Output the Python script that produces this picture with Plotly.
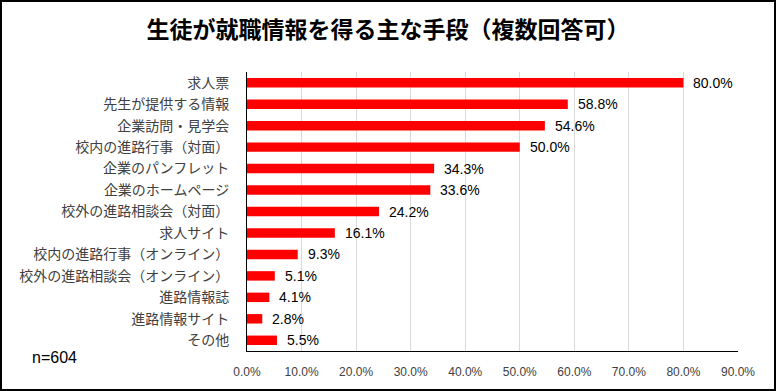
import plotly.graph_objects as go

categories = ["求人票", "先生が提供する情報", "企業訪問・見学会", "校内の進路行事（対面）",
              "企業のパンフレット", "企業のホームページ", "校外の進路相談会（対面）", "求人サイト",
              "校内の進路行事（オンライン）", "校外の進路相談会（オンライン）", "進路情報誌",
              "進路情報サイト", "その他"]
values = [80.0, 58.8, 54.6, 50.0, 34.3, 33.6, 24.2, 16.1, 9.3, 5.1, 4.1, 2.8, 5.5]
x_ticks = [0, 10, 20, 30, 40, 50, 60, 70, 80, 90]
title_text = "生徒が就職情報を得る主な手段（複数回答可）"
note_text = "n=604"

W, H = 776, 391
L, R, T, B = 247, 38, 72, 40
pw, ph = W - L - R, H - T - B

fig = go.Figure(go.Bar(
    y=categories, x=values, orientation="h",
    marker=dict(color="#FF0000", line=dict(width=0)),
    width=0.44, hoverinfo="x+y",
))

label_annotations = [
    dict(x=v, y=c, xref="x", yref="y", text=f"{v:.1f}%", showarrow=False,
         xanchor="left", yanchor="middle", xshift=8,
         font=dict(family="Liberation Sans, sans-serif", size=14, color="#000000"))
    for c, v in zip(categories, values)
]

fig.update_layout(
    width=W, height=H,
    margin=dict(l=L, r=R, t=T, b=B),
    paper_bgcolor="white", plot_bgcolor="white",
    showlegend=False,
    title=dict(text=title_text, x=0.5, xref="container", xanchor="center", y=1 - 30 / H, yanchor="middle",
               font=dict(family="Noto Sans CJK JP", size=23, color="#000000", weight="bold")),
    xaxis=dict(range=[0, 90], tickvals=x_ticks, ticktext=[f"{v:.1f}%" for v in x_ticks],
               showgrid=True, gridcolor="#D9D9D9", gridwidth=1,
               showline=True, linecolor="#000000", linewidth=1, zeroline=False,
               ticks="", ticklabelstandoff=10,
               tickfont=dict(family="Liberation Sans, sans-serif", size=12, color="#404040")),
    yaxis=dict(autorange="reversed", showline=True, linecolor="#000000", linewidth=1,
               showgrid=False, ticks="", ticklabelstandoff=14,
               tickfont=dict(family="Noto Sans CJK JP", size=14, color="#404040")),
    shapes=[dict(type="rect", xref="paper", yref="paper",
                 x0=(1 - L) / pw, x1=(W - 1 - L) / pw,
                 y0=(H - B - (H - 1)) / ph, y1=(H - B - 1) / ph,
                 line=dict(color="#000000", width=2))],
    annotations=label_annotations + [dict(text=note_text, xref="paper", yref="paper",
                      x=(30 - L) / pw, y=(H - B - 357) / ph, xanchor="left", yanchor="middle",
                      showarrow=False,
                      font=dict(family="Liberation Sans, sans-serif", size=16, color="#000000"))],
)

fig.write_html("out.html", config={"displayModeBar": False},
               post_script="document.body.style.margin='0';document.body.style.overflow='hidden';")
